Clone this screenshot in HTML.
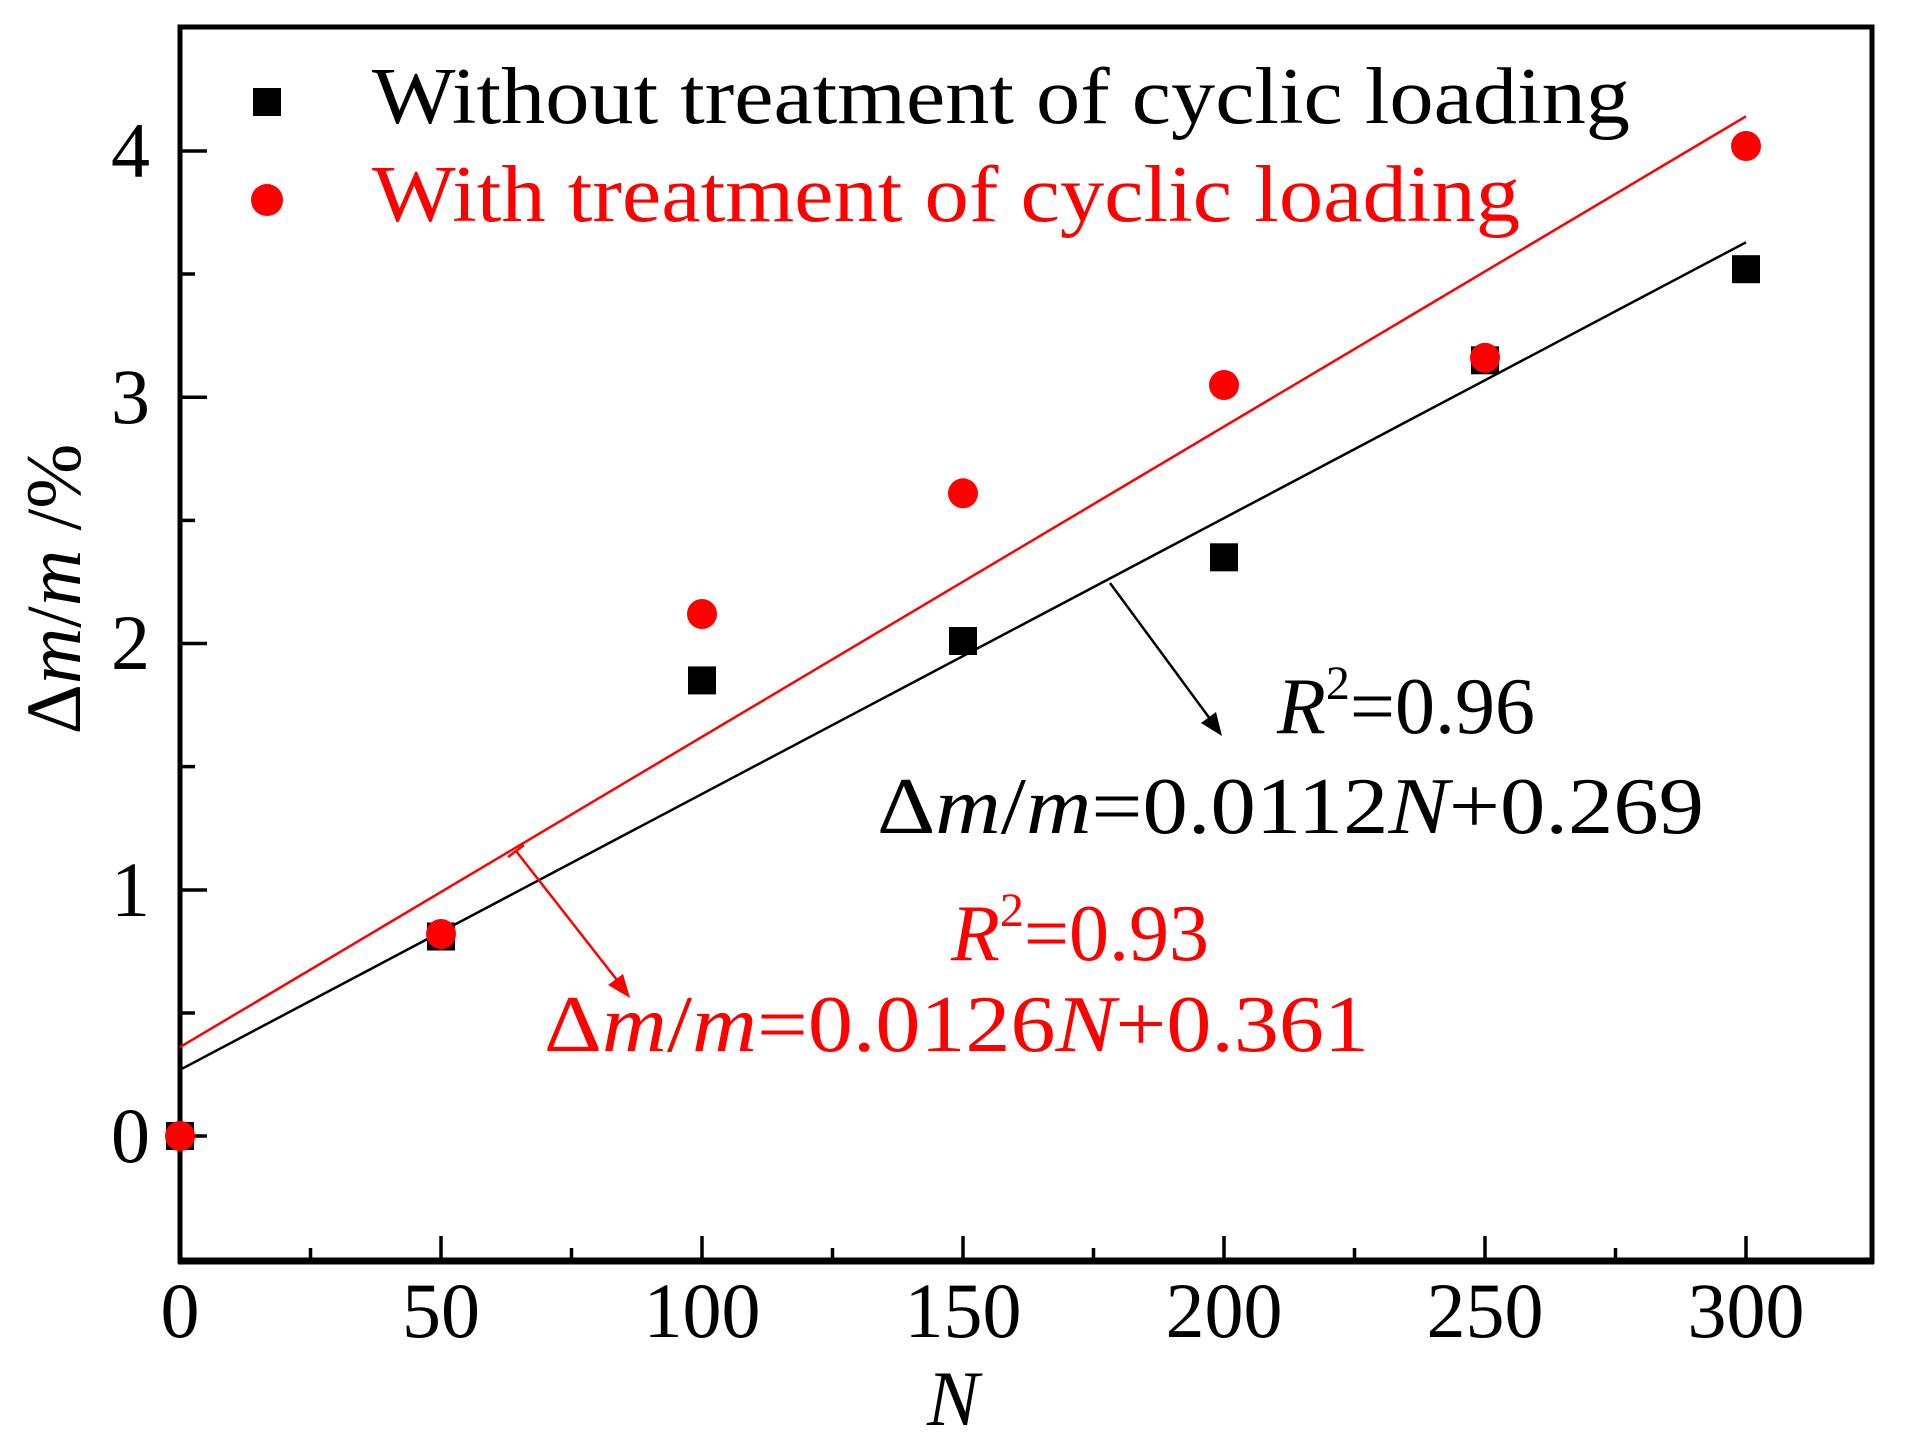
<!DOCTYPE html>
<html><head><meta charset="utf-8"><style>body{margin:0;background:#fff}svg{display:block}text{font-family:"Liberation Serif",serif}</style></head>
<body>
<svg width="1906" height="1448" viewBox="0 0 1906 1448" xmlns="http://www.w3.org/2000/svg">
<rect width="1906" height="1448" fill="#fff"/>
<rect x="180" y="27" width="1692" height="1234" fill="none" stroke="#000" stroke-width="5"/>
<line x1="178" y1="1261" x2="1874" y2="1261" stroke="#000" stroke-width="7"/>
<g stroke="#000" stroke-width="3.5">
<line x1="441" y1="1261" x2="441" y2="1236"/><line x1="702" y1="1261" x2="702" y2="1236"/><line x1="963" y1="1261" x2="963" y2="1236"/><line x1="1224" y1="1261" x2="1224" y2="1236"/><line x1="1485" y1="1261" x2="1485" y2="1236"/><line x1="1746" y1="1261" x2="1746" y2="1236"/>
<line x1="310.5" y1="1261" x2="310.5" y2="1248"/><line x1="571.5" y1="1261" x2="571.5" y2="1248"/><line x1="832.5" y1="1261" x2="832.5" y2="1248"/><line x1="1093.5" y1="1261" x2="1093.5" y2="1248"/><line x1="1354.5" y1="1261" x2="1354.5" y2="1248"/><line x1="1615.5" y1="1261" x2="1615.5" y2="1248"/>
<line x1="180" y1="1136" x2="207" y2="1136"/><line x1="180" y1="890" x2="207" y2="890"/><line x1="180" y1="643.5" x2="207" y2="643.5"/><line x1="180" y1="397.25" x2="207" y2="397.25"/><line x1="180" y1="151" x2="207" y2="151"/>
<line x1="180" y1="1013" x2="195" y2="1013"/><line x1="180" y1="766.6" x2="195" y2="766.6"/><line x1="180" y1="520.4" x2="195" y2="520.4"/><line x1="180" y1="274" x2="195" y2="274"/>
</g>
<g font-size="78" text-anchor="middle" fill="#000">
<text x="180" y="1337">0</text><text x="441" y="1337">50</text><text x="702" y="1337">100</text><text x="963" y="1337">150</text><text x="1224" y="1337">200</text><text x="1485" y="1337">250</text><text x="1746" y="1337">300</text>
</g>
<g font-size="78" text-anchor="end" fill="#000">
<text x="150" y="1162">0</text><text x="150" y="916">1</text><text x="150" y="669">2</text><text x="150" y="423">3</text><text x="150" y="177">4</text>
</g>
<text x="953" y="1425" font-size="78" font-style="italic" text-anchor="middle">N</text>
<text transform="translate(80,589) rotate(-90)" font-size="78" text-anchor="middle">Δ<tspan font-style="italic">m</tspan>/<tspan font-style="italic">m</tspan> /%</text>
<line x1="180" y1="1069.8" x2="1746" y2="242.3" stroke="#000" stroke-width="2.5"/>
<line x1="180" y1="1047.1" x2="1746" y2="116.3" stroke="#f00" stroke-width="2.5"/>
<line x1="1110" y1="583" x2="1216" y2="727" stroke="#000" stroke-width="2.5"/>
<polygon points="1222,736 1201,723 1216,712" fill="#000"/>
<line x1="516" y1="851" x2="624" y2="989" stroke="#f00" stroke-width="2.5"/>
<polygon points="630,998 608,985 623,974" fill="#f00"/>
<line x1="508" y1="857" x2="524" y2="845" stroke="#f00" stroke-width="2.5"/>
<g fill="#000">
<rect x="166" y="1122" width="28" height="28"/><rect x="427" y="922.5" width="28" height="28"/><rect x="688" y="666.4" width="28" height="28"/><rect x="949" y="627" width="28" height="28"/><rect x="1210" y="543.3" width="28" height="28"/><rect x="1471" y="346.3" width="28" height="28"/><rect x="1732" y="255.2" width="28" height="28"/>
</g>
<g fill="#f00">
<circle cx="180" cy="1136" r="15"/><circle cx="441" cy="934" r="15"/><circle cx="702" cy="614" r="15"/><circle cx="963" cy="493.3" r="15"/><circle cx="1224" cy="385" r="15"/><circle cx="1485" cy="357.8" r="15"/><circle cx="1746" cy="146" r="15"/>
</g>
<rect x="253" y="88" width="28" height="28" fill="#000"/>
<circle cx="267" cy="200" r="16" fill="#f00"/>
<text x="372" y="123" font-size="80" textLength="1258" lengthAdjust="spacingAndGlyphs">Without treatment of cyclic loading</text>
<text x="372" y="221" font-size="80" fill="#f00" textLength="1148" lengthAdjust="spacingAndGlyphs">With treatment of cyclic loading</text>
<text x="1277" y="733" font-size="80"><tspan font-style="italic">R</tspan><tspan font-size="48" dy="-34">2</tspan><tspan dy="34">=0.96</tspan></text>
<text x="877" y="833" font-size="80" textLength="827" lengthAdjust="spacingAndGlyphs">Δ<tspan font-style="italic">m</tspan>/<tspan font-style="italic">m</tspan>=0.0112<tspan font-style="italic">N</tspan>+0.269</text>
<text x="951" y="960" font-size="80" fill="#f00"><tspan font-style="italic">R</tspan><tspan font-size="48" dy="-34">2</tspan><tspan dy="34">=0.93</tspan></text>
<text x="544" y="1051" font-size="80" fill="#f00" textLength="825" lengthAdjust="spacingAndGlyphs">Δ<tspan font-style="italic">m</tspan>/<tspan font-style="italic">m</tspan>=0.0126<tspan font-style="italic">N</tspan>+0.361</text>
</svg>
</body></html>
